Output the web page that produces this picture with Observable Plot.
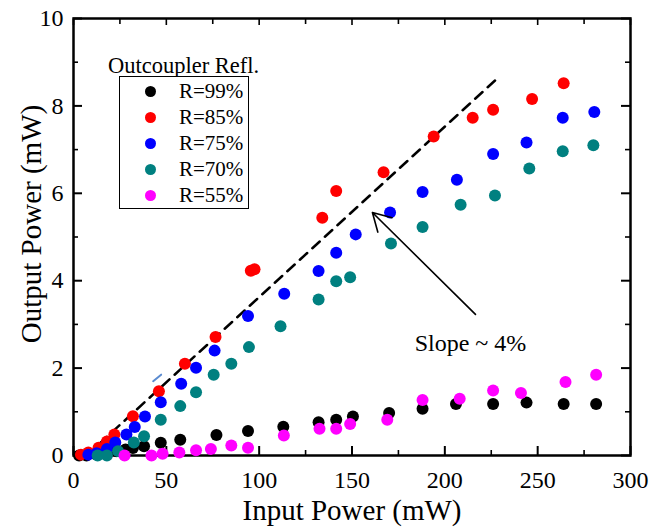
<!DOCTYPE html>
<html>
<head>
<meta charset="utf-8">
<script src="https://cdn.jsdelivr.net/npm/d3@7"></script>
<script src="https://cdn.jsdelivr.net/npm/@observablehq/plot@0.6"></script>
<style>
  html, body { margin: 0; padding: 0; background: #fff; }
  #wrap { position: relative; width: 651px; height: 527px; font-family: "Liberation Serif", "Times New Roman", serif; }
  #wrap svg text { font-family: "Liberation Serif", "Times New Roman", serif !important; }
  #legend-title { position: absolute; left: 108px; top: 52px; font-size: 22.5px; line-height: 28px; white-space: nowrap; color: #000; }
  #legend-box { position: absolute; left: 119px; top: 76px; width: 130px; height: 133px; border: 1.3px solid #000; background: #fff; box-sizing: border-box; padding-top: 2px; }
  .lg-row { display: flex; align-items: center; height: 25.8px; }
  .lg-dot { width: 11px; height: 11px; border-radius: 50%; margin-left: 25px; flex: none; }
  .lg-text { margin-left: 23px; font-size: 21px; line-height: 25px; color: #000; }
</style>
</head>
<body>
<div id="wrap"></div>
<script>
// ---- Data ----
const seriesNames  = ["R=99%", "R=85%", "R=75%", "R=70%", "R=55%"];
const seriesColors = ["#000000", "#ff0000", "#0000ff", "#008080", "#ff00ff"];

// [input power (mW), output power (mW)]
const r99 = [[3,0.0],[7,0.0],[12,0.03],[17,0.06],[23,0.1],[28,0.14],[32,0.17],[38,0.21],[47,0.29],[57.5,0.36],[77,0.47],[94,0.56],[113,0.66],[132,0.76],[141.5,0.82],[150.5,0.89],[170,0.97],[188,1.07],[206,1.18],[226,1.18],[244,1.21],[264,1.18],[281.5,1.18]];
const r85 = [[4,0.02],[8,0.07],[13.5,0.18],[18,0.32],[22,0.48],[32,0.9],[46,1.47],[60,2.1],[76.5,2.71],[95.5,4.23],[97.5,4.26],[134,5.44],[141.5,6.05],[167,6.48],[194,7.3],[215,7.73],[226,7.91],[247,8.16],[264,8.52]];
const r75 = [[8,0.02],[12.5,0.05],[18,0.15],[22.5,0.3],[28.5,0.48],[33,0.65],[38.5,0.89],[47,1.22],[58,1.64],[66,2.01],[76,2.4],[94,3.19],[113.5,3.7],[132,4.22],[141.5,4.64],[152,5.06],[170.5,5.56],[188,6.03],[206.5,6.31],[226,6.9],[244,7.16],[263.5,7.73],[280.5,7.86]];
const r70 = [[13,0.0],[18,0.0],[24,0.1],[32.5,0.3],[38,0.44],[47,0.82],[57.5,1.13],[66,1.45],[75.5,1.85],[85,2.1],[94.5,2.48],[111.5,2.96],[132,3.57],[141.5,3.99],[149,4.08],[171,4.85],[188,5.23],[208.5,5.74],[227,5.95],[245.5,6.57],[263.5,6.96],[280,7.1]];
const r55 = [[27.5,0.0],[42,0.0],[48,0.04],[57,0.07],[66,0.12],[74,0.15],[85,0.23],[94,0.18],[113.3,0.46],[132.5,0.61],[141.5,0.61],[149,0.72],[169,0.82],[188,1.27],[208,1.3],[226,1.49],[241,1.43],[265,1.68],[281.5,1.85]];

// dashed guide line (slope ~ 4 %)
const slopeLine = [[14,0.27],[228.3,8.63]];
// small stray blue dash visible in the original
const strayDash = [[42.9,1.70],[47.2,1.85]];
// arrow: tail -> tip
const arrowData = [{x1: 216.5, y1: 3.23, x2: 161, y2: 5.56}];
const slopeLabel = [{x: 213.8, y: 2.40, text: "Slope ~ 4%"}];

// axes
const xMajor = [0, 50, 100, 150, 200, 250, 300];
const xMinor = [25, 75, 125, 175, 225, 275];
const yMajor = [0, 2, 4, 6, 8, 10];
const yMinor = [1, 3, 5, 7, 9];
const xTitle = "Input Power (mW)";
const yTitle = "Output Power (mW)";
const legendTitle = "Outcoupler Refl.";

// ---- Build ----
const allSeries = [r99, r85, r75, r70, r55];
const points = allSeries.flatMap((s, i) => s.map(([x, y]) => ({x, y, series: seriesNames[i]})));

const font = "'Liberation Serif', 'Times New Roman', serif";

const chart = Plot.plot({
  width: 651,
  height: 527,
  marginLeft: 73,
  marginRight: 21,
  marginTop: 18,
  marginBottom: 72,
  style: {fontFamily: font, background: "#fff", color: "#000", overflow: "visible"},
  x: {domain: [0, 300]},
  y: {domain: [0, 10]},
  color: {domain: seriesNames, range: seriesColors},
  marks: [
    // bottom axis
    Plot.axisX({anchor: "bottom", ticks: xMajor, tickSize: -9, tickPadding: 24, strokeWidth: 2, fontSize: 24, fontFamily: font, fontVariant: "normal", label: null, tickFormat: d => String(d)}),
    Plot.axisX({anchor: "bottom", ticks: xMinor, tickSize: -5, strokeWidth: 1.6, label: null, tickFormat: () => ""}),
    // top axis
    Plot.axisX({anchor: "top", ticks: xMajor, tickSize: -6, strokeWidth: 1.6, label: null, tickFormat: () => ""}),
    Plot.axisX({anchor: "top", ticks: xMinor, tickSize: -5, strokeWidth: 1.6, label: null, tickFormat: () => ""}),
    // left axis
    Plot.axisY({anchor: "left", ticks: yMajor, tickSize: -9, tickPadding: 19, strokeWidth: 2, fontSize: 24, fontFamily: font, fontVariant: "normal", label: null, tickFormat: d => String(d)}),
    Plot.axisY({anchor: "left", ticks: yMinor, tickSize: -5, strokeWidth: 1.6, label: null, tickFormat: () => ""}),
    // right axis
    Plot.axisY({anchor: "right", ticks: yMajor, tickSize: -10, strokeWidth: 2, label: null, tickFormat: () => ""}),
    Plot.axisY({anchor: "right", ticks: yMinor, tickSize: -6, strokeWidth: 1.6, label: null, tickFormat: () => ""}),
    Plot.frame({stroke: "#000", strokeWidth: 2.5}),
    // axis titles
    Plot.text([xTitle], {frameAnchor: "bottom", text: d => d, dy: 64, lineAnchor: "bottom", textAnchor: "middle", fontSize: 29, fontFamily: font, fill: "#000"}),
    Plot.text([yTitle], {frameAnchor: "left", text: d => d, dx: -33, dy: -13, rotate: -90, lineAnchor: "bottom", textAnchor: "middle", fontSize: 29, fontFamily: font, fill: "#000"}),
    // guide line + stray dash
    Plot.line(slopeLine, {x: d => d[0], y: d => d[1], stroke: "#000", strokeWidth: 2.5, strokeDasharray: "10,7"}),
    Plot.line(strayDash, {x: d => d[0], y: d => d[1], stroke: "#5b8bd0", strokeWidth: 2}),
    // data
    Plot.dot(points, {x: "x", y: "y", fill: "series", r: 6, stroke: "none"}),
    // annotation
    Plot.arrow(arrowData, {x1: "x1", y1: "y1", x2: "x2", y2: "y2", stroke: "#000", strokeWidth: 1.6, headLength: 19, headAngle: 60, bend: 0}),
    Plot.text(slopeLabel, {x: "x", y: "y", text: "text", lineAnchor: "bottom", textAnchor: "middle", fontSize: 24, fontFamily: font, fill: "#000"})
  ]
});

const wrap = document.getElementById("wrap");
wrap.appendChild(chart);

// legend (HTML, overlaid on the plot area)
const lt = document.createElement("div");
lt.id = "legend-title";
lt.textContent = legendTitle;
wrap.appendChild(lt);
const box = document.createElement("div");
box.id = "legend-box";
seriesNames.forEach((name, i) => {
  const row = document.createElement("div");
  row.className = "lg-row";
  const dot = document.createElement("span");
  dot.className = "lg-dot";
  dot.style.background = seriesColors[i];
  const txt = document.createElement("span");
  txt.className = "lg-text";
  txt.textContent = name;
  row.appendChild(dot);
  row.appendChild(txt);
  box.appendChild(row);
});
wrap.appendChild(box);
</script>
</body>
</html>
